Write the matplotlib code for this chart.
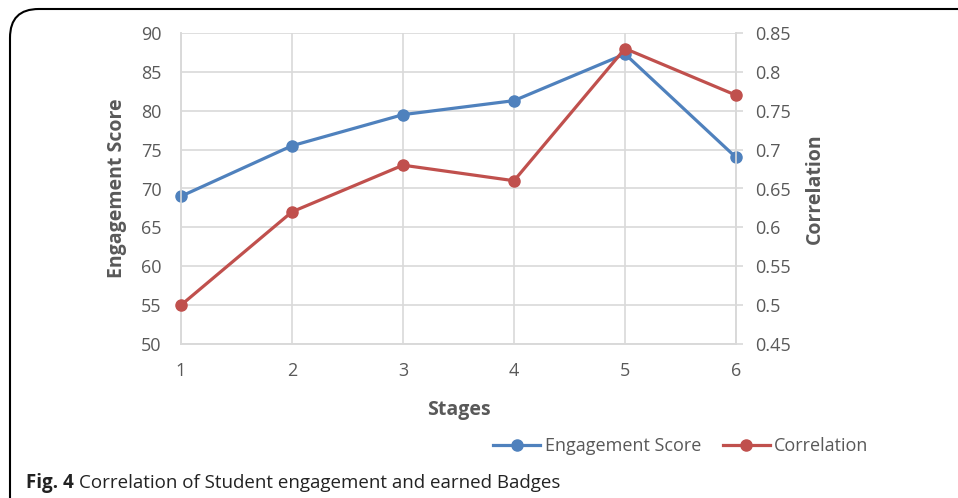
import matplotlib
matplotlib.use("Agg")
import matplotlib.pyplot as plt
from matplotlib.patches import FancyBboxPatch
from matplotlib.lines import Line2D

plt.rcParams['font.family'] = ['Open Sans', 'DejaVu Sans']

stages = [1, 2, 3, 4, 5, 6]
engagement = [69.0, 75.5, 79.5, 81.3, 87.3, 74.0]
correlation = [0.50, 0.62, 0.68, 0.66, 0.83, 0.77]

BLUE = '#4F81BD'
RED = '#C0504D'
GRID = '#D9D9D9'
TXT = '#595959'

fig = plt.figure(figsize=(9.58, 4.98), dpi=100)
ax = fig.add_axes([181 / 958, 1 - 344 / 498, (736 - 181) / 958, (344 - 33) / 498])
ax2 = ax.twinx()

ax.plot(stages, engagement, color=BLUE, lw=2.3, marker='o', ms=8, zorder=3, clip_on=False)
ax2.plot(stages, correlation, color=RED, lw=2.3, marker='o', ms=8, zorder=3, clip_on=False)

ax.set_xlim(1, 6)
ax.set_ylim(50, 90)
ax.set_yticks(range(50, 91, 5))
ax.set_xticks(stages)
ax2.set_ylim(0.45, 0.85)
ax2.set_yticks([0.45, 0.5, 0.55, 0.6, 0.65, 0.7, 0.75, 0.8, 0.85])
ax2.set_yticklabels(['0.45', '0.5', '0.55', '0.6', '0.65', '0.7', '0.75', '0.8', '0.85'])

ax.grid(True, color=GRID, lw=1.2)
ax.set_axisbelow(True)
for a in (ax, ax2):
    for s in a.spines.values():
        s.set_color(GRID)
        s.set_linewidth(1.2)
    a.spines['top'].set_visible(False)
ax.tick_params(axis='y', length=0, labelsize=13, labelcolor=TXT, pad=14)
ax.tick_params(axis='x', length=0, labelsize=13, labelcolor=TXT, pad=13)
ax2.tick_params(axis='y', length=5, width=1.2, color=GRID, labelsize=13, labelcolor=TXT, pad=9)

ax.set_xlabel('Stages', fontsize=14, fontweight='bold', color=TXT, labelpad=14)
ax.set_ylabel('Engagement Score', fontsize=14, fontweight='bold', color=TXT, labelpad=10)
ax2.set_ylabel('Correlation', fontsize=14, fontweight='bold', color=TXT, labelpad=10)

handles = [Line2D([], [], color=BLUE, lw=2.3, marker='o', ms=8),
           Line2D([], [], color=RED, lw=2.3, marker='o', ms=8)]
fig.legend(handles, ['Engagement Score', 'Correlation'], loc='center',
           bbox_to_anchor=(681 / 958, 1 - 446 / 498), ncol=2, frameon=False,
           fontsize=13, labelcolor=TXT, handlelength=2.6, handletextpad=0.25,
           columnspacing=1.2)

# rounded border box
box = FancyBboxPatch((10 / 958, -0.2), 1.2, 1.2 - 9 / 498,
                     boxstyle='round,pad=0,rounding_size=0.03',
                     transform=fig.transFigure, fill=False, ec='black', lw=1.5,
                     clip_on=False, mutation_aspect=958 / 498)
fig.patches.append(box)

t1 = fig.text(26 / 958, 1 - 483 / 498, 'Fig. 4', fontsize=13.5, fontweight='bold',
              va='center', color='#222222')
fig.canvas.draw()
bb = t1.get_window_extent()
fig.text(bb.x1 / fig.bbox.width + 5 / 958, 1 - 483 / 498,
         'Correlation of Student engagement and earned Badges',
         fontsize=13.5, va='center', color='#222222')

fig.savefig('out.png', dpi=100)
